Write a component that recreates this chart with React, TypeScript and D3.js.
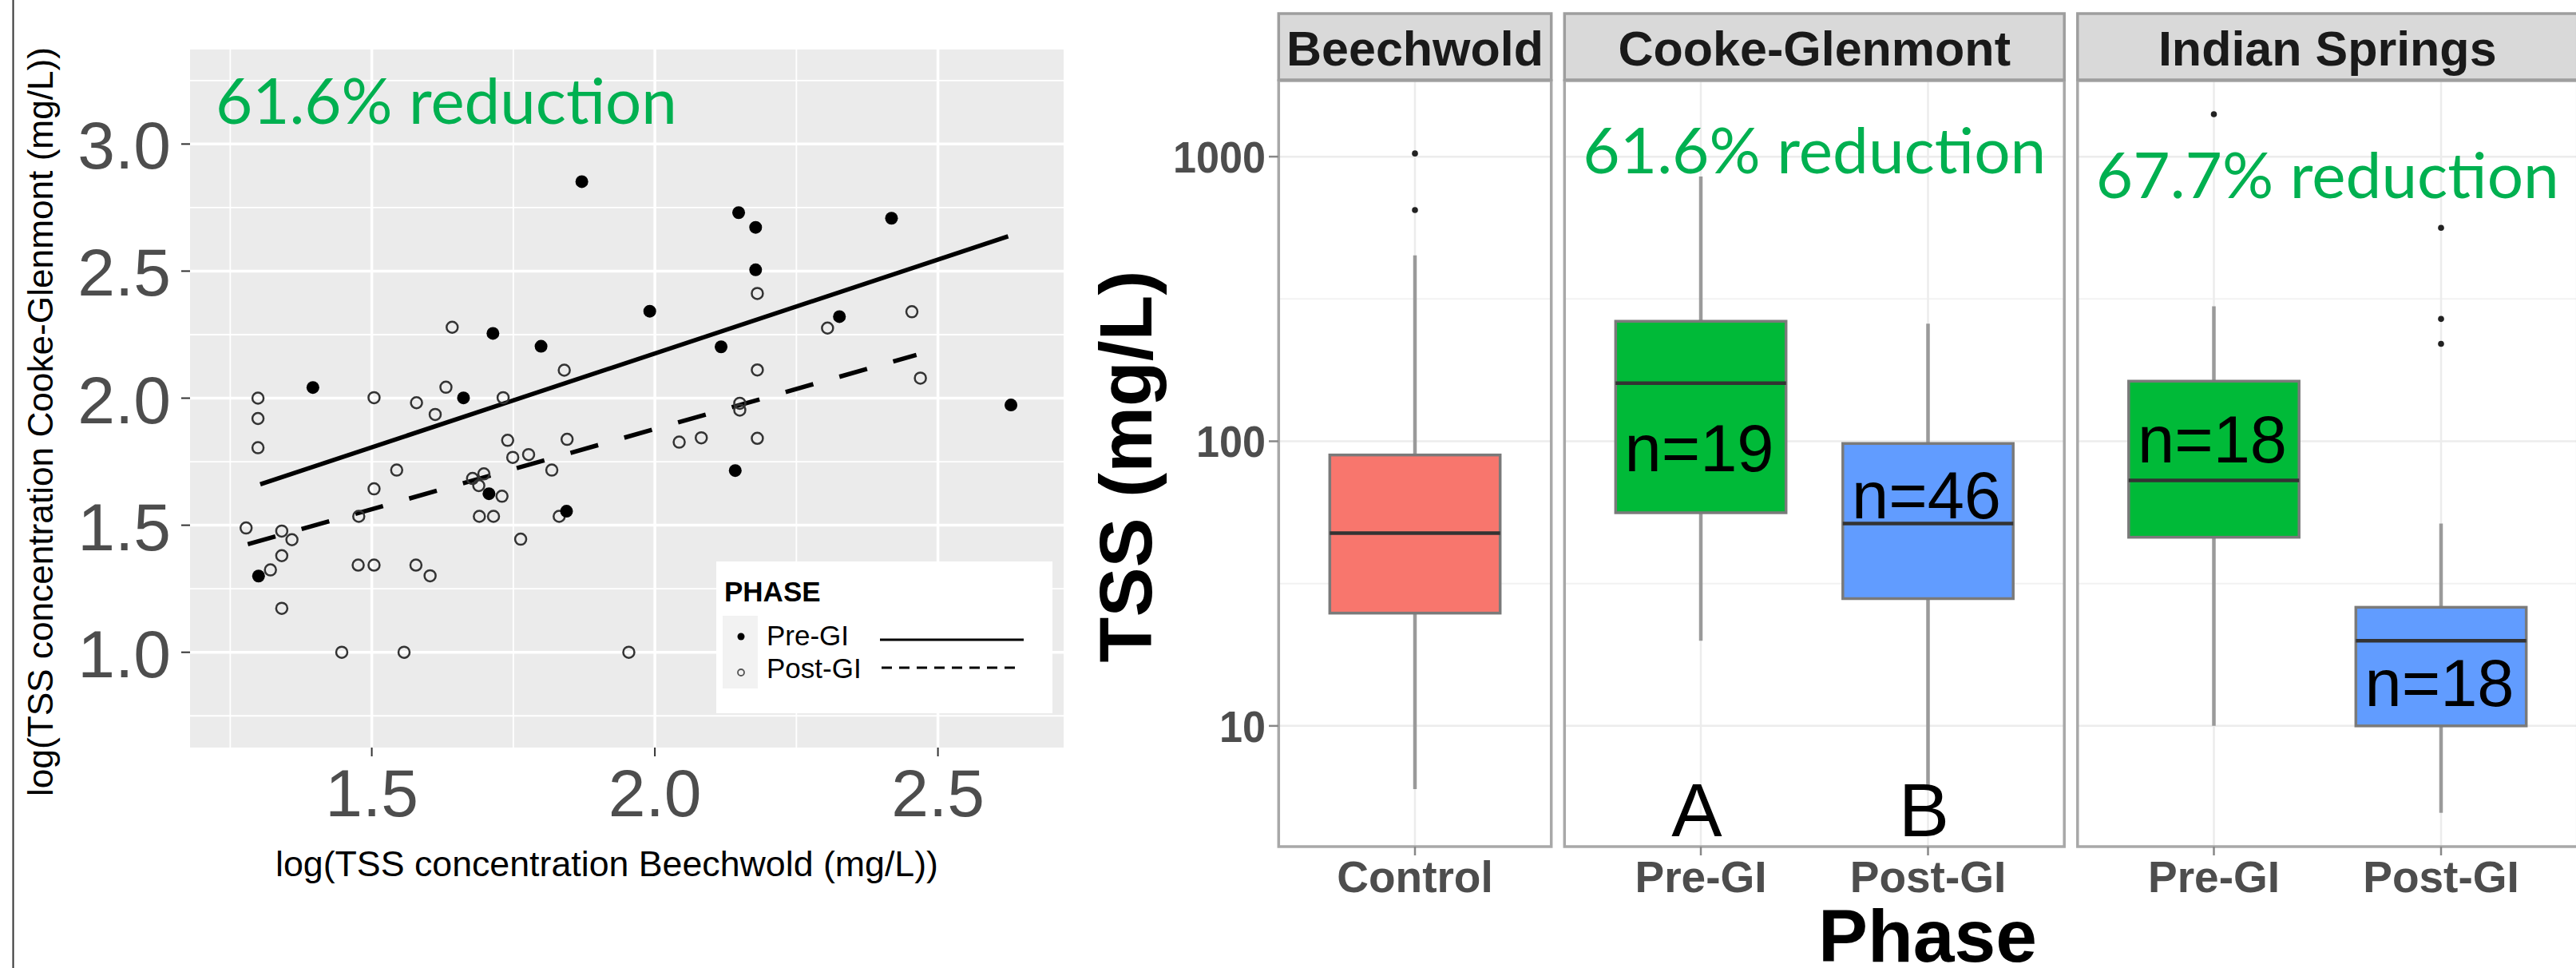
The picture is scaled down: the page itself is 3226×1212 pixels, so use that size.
import React from 'react';
import * as d3 from 'd3';

const W = 3226;
const H = 1212;

// ---------- Left panel: scatter data (log10 TSS) ----------
const preGI: [number, number][] = [
  [1.871, 2.852], [2.148, 2.730], [2.178, 2.672], [2.178, 2.505], [2.418, 2.708],
  [1.991, 2.342], [2.326, 2.321], [1.714, 2.255], [1.799, 2.204], [2.117, 2.202],
  [1.396, 2.042], [1.662, 2.001], [2.629, 1.973], [2.142, 1.715], [1.707, 1.624],
  [1.844, 1.555], [1.300, 1.300],
];
const postGI: [number, number][] = [
  [1.299, 2.000], [1.299, 1.920], [1.299, 1.805], [1.278, 1.489], [1.341, 1.477],
  [1.359, 1.443], [1.341, 1.380], [1.321, 1.324], [1.341, 1.173], [1.447, 1.000],
  [1.477, 1.535], [1.476, 1.343], [1.504, 1.343], [1.504, 1.643], [1.504, 2.002],
  [1.544, 1.717], [1.557, 1.000], [1.579, 1.982], [1.578, 1.343], [1.603, 1.301],
  [1.612, 1.936], [1.631, 2.043], [1.642, 2.279], [1.678, 1.684], [1.689, 1.656],
  [1.698, 1.702], [1.690, 1.535], [1.715, 1.535], [1.730, 1.614], [1.732, 2.002],
  [1.740, 1.834], [1.749, 1.767], [1.777, 1.778], [1.763, 1.445], [1.818, 1.717],
  [1.831, 1.535], [1.840, 2.110], [1.845, 1.838], [1.954, 1.000], [2.043, 1.827],
  [2.082, 1.844], [2.150, 1.980], [2.150, 1.953], [2.181, 2.412], [2.181, 2.111],
  [2.181, 1.842], [2.305, 2.276], [2.454, 2.340], [2.469, 2.079],
];
const preFit: [number, number][] = [[1.303, 1.661], [2.624, 2.637]];
const postFit: [number, number][] = [[1.281, 1.425], [2.462, 2.170]];
const xTicksL = [1.5, 2.0, 2.5];
const yTicksL = [1.0, 1.5, 2.0, 2.5, 3.0];
const xMinorL = [1.25, 1.75, 2.25];
const yMinorL = [0.75, 1.25, 1.75, 2.25, 2.75, 3.25];
const leftNote = { x: 1.224, y: 3.08, text: '61.6% reduction' };
const legendTitle = 'PHASE';
const legendLabels = ['Pre-GI', 'Post-GI'];

// ---------- Right panel: boxplot data (TSS mg/L) ----------
const facets = ['Beechwold', 'Cooke-Glenmont', 'Indian Springs'];
const facetCats = [['Control'], ['Pre-GI', 'Post-GI'], ['Pre-GI', 'Post-GI']];
const boxFacet = [0, 1, 1, 2, 2];
const boxCat = ['Control', 'Pre-GI', 'Post-GI', 'Pre-GI', 'Post-GI'];
const whiskLo = [6.0, 19.9, 6.0, 10.0, 4.95];
const q1 = [24.9, 56.1, 28.0, 46.0, 10.0];
const med = [47.6, 160, 51.4, 72.8, 19.9];
const q3 = [89.5, 264, 98.2, 162.6, 26.1];
const whiskHi = [450, 851, 259, 298, 51.4];
const outliers: number[][] = [[1026, 649], [], [], [1409], [562, 269, 220]];
const nLabels = ['', 'n=19', 'n=46', 'n=18', 'n=18'];
const nLabelVal = [0, 78.7, 53.5, 84.5, 11.75];
const letterLabels = ['', 'A', 'B', '', ''];
const letterVal = 4.1;
const facetNotes = ['', '61.6% reduction', '67.7% reduction'];
const facetNoteVal = [0, 876, 714];
const yTicksR = [10, 100, 1000];
const yMinorR = [Math.sqrt(10) * 10, Math.sqrt(10) * 100];
const fillColors: Record<string, string> = {
  Control: '#F8766D',
  'Pre-GI': '#00BA38',
  'Post-GI': '#619CFF',
};

const SANS = "'Liberation Sans', Arial, sans-serif";
const GREEN = '#00b050';

export default function App() {
  // left scales
  const lx = d3.scaleLinear().domain([1.179, 2.722]).range([238, 1332]);
  const ly = d3.scaleLinear().domain([0.625, 3.372]).range([936, 62]);
  const line = d3.line<[number, number]>().x(d => lx(d[0])).y(d => ly(d[1]));

  // right scales
  const ry = d3.scaleLog().domain([3.766, 1849]).range([1060, 101]);
  const unit = 284.5;
  const gap = 16.6;
  let cursor = 1601.3;
  const panels = facets.map((f, i) => {
    const n = facetCats[i].length;
    const w = (n + 0.2) * unit;
    const left = cursor;
    cursor += w + gap;
    const sx = d3.scaleLinear().domain([0.4, n + 0.6]).range([left, left + w]);
    return { name: f, left, right: left + w, sx, cats: facetCats[i] };
  });
  const boxX = (i: number) => {
    const p = panels[boxFacet[i]];
    return p.sx(p.cats.indexOf(boxCat[i]) + 1);
  };
  const boxW = 0.75 * unit;
  const rTop = 101;
  const rBottom = 1060;

  return (
    <svg
      width={W}
      height={H}
      viewBox={`0 0 ${W} ${H}`}
      style={{ position: 'absolute', left: 0, top: 0, display: 'block', background: '#fff' }}
    >
      <rect x={0} y={0} width={W} height={H} fill="#fff" />
      {/* left frame line */}
      <line x1={16.5} x2={16.5} y1={0} y2={H} stroke="#333" strokeWidth={2} />

      {/* ================= LEFT SCATTER ================= */}
      <rect x={238} y={62} width={1332 - 238} height={936 - 62} fill="#ebebeb" />
      {xMinorL.map(v => (
        <line key={'xm' + v} x1={lx(v)} x2={lx(v)} y1={62} y2={936} stroke="#fff" strokeWidth={1.8} />
      ))}
      {yMinorL.map(v => (
        <line key={'ym' + v} x1={238} x2={1332} y1={ly(v)} y2={ly(v)} stroke="#fff" strokeWidth={1.8} />
      ))}
      {xTicksL.map(v => (
        <line key={'xM' + v} x1={lx(v)} x2={lx(v)} y1={62} y2={936} stroke="#fff" strokeWidth={3.5} />
      ))}
      {yTicksL.map(v => (
        <line key={'yM' + v} x1={238} x2={1332} y1={ly(v)} y2={ly(v)} stroke="#fff" strokeWidth={3.5} />
      ))}
      {/* axes ticks and labels */}
      {yTicksL.map(v => (
        <g key={'yt' + v}>
          <line x1={227} x2={238} y1={ly(v)} y2={ly(v)} stroke="#333" strokeWidth={2} />
          <text x={214} y={ly(v) + 31} textAnchor="end" fontFamily={SANS} fontSize={84} fill="#4d4d4d">
            {v.toFixed(1)}
          </text>
        </g>
      ))}
      {xTicksL.map(v => (
        <g key={'xt' + v}>
          <line x1={lx(v)} x2={lx(v)} y1={936} y2={947} stroke="#333" strokeWidth={2} />
          <text x={lx(v)} y={1022} textAnchor="middle" fontFamily={SANS} fontSize={84} fill="#4d4d4d">
            {v.toFixed(1)}
          </text>
        </g>
      ))}
      <text
        x={760}
        y={1097}
        textAnchor="middle"
        fontFamily={SANS}
        fontSize={44}
        fill="#000"
        textLength={830}
        lengthAdjust="spacingAndGlyphs"
      >
        log(TSS concentration Beechwold (mg/L))
      </text>
      <text
        transform={`translate(66,528) rotate(-90)`}
        textAnchor="middle"
        fontFamily={SANS}
        fontSize={44}
        fill="#000"
        textLength={938}
        lengthAdjust="spacingAndGlyphs"
      >
        log(TSS concentration Cooke-Glenmont (mg/L))
      </text>

      {/* fit lines */}
      <path d={line(preFit) || ''} stroke="#000" strokeWidth={5.5} fill="none" />
      <path d={line(postFit) || ''} stroke="#000" strokeWidth={5.5} fill="none" strokeDasharray="36,34" />

      {/* points */}
      {postGI.map((d, i) => (
        <circle key={'po' + i} cx={lx(d[0])} cy={ly(d[1])} r={7} fill="none" stroke="#333" strokeWidth={2.5} />
      ))}
      {preGI.map((d, i) => (
        <circle key={'pr' + i} cx={lx(d[0])} cy={ly(d[1])} r={8} fill="#000" />
      ))}

      {/* annotation */}
      <text
        x={lx(leftNote.x)}
        y={ly(leftNote.y)}
        fontFamily="Lato, 'Open Sans', sans-serif"
        fontSize={80}
        fill={GREEN}
        textLength={578}
        lengthAdjust="spacingAndGlyphs"
      >
        {leftNote.text}
      </text>

      {/* legend */}
      <rect x={897} y={703} width={421} height={190} fill="#fff" />
      <text x={907} y={753} fontFamily={SANS} fontWeight="bold" fontSize={35} fill="#000">
        {legendTitle}
      </text>
      <rect x={905} y={771} width={44} height={91} fill="#f2f2f2" />
      <circle cx={928} cy={797} r={4.5} fill="#000" />
      <circle cx={928} cy={842} r={4} fill="none" stroke="#555" strokeWidth={1.8} />
      <text x={960} y={808} fontFamily={SANS} fontSize={35} fill="#000">
        {legendLabels[0]}
      </text>
      <text x={960} y={849} fontFamily={SANS} fontSize={35} fill="#000">
        {legendLabels[1]}
      </text>
      <line x1={1102} x2={1282} y1={801} y2={801} stroke="#000" strokeWidth={3} />
      <line x1={1104} x2={1278} y1={836} y2={836} stroke="#000" strokeWidth={3} strokeDasharray="13,9" />

      {/* ================= RIGHT BOXPLOTS ================= */}
      {panels.map((p, pi) => (
        <g key={'panel' + pi}>
          <rect x={p.left} y={rTop} width={p.right - p.left} height={rBottom - rTop} fill="#fff" />
          {yMinorR.map(v => (
            <line key={'rm' + v} x1={p.left} x2={p.right} y1={ry(v)} y2={ry(v)} stroke="#f2f2f2" strokeWidth={2} />
          ))}
          {yTicksR.map(v => (
            <line key={'rM' + v} x1={p.left} x2={p.right} y1={ry(v)} y2={ry(v)} stroke="#ececec" strokeWidth={2.5} />
          ))}
          {p.cats.map((c, ci) => (
            <line
              key={'vg' + c}
              x1={p.sx(ci + 1)}
              x2={p.sx(ci + 1)}
              y1={rTop}
              y2={rBottom}
              stroke="#ececec"
              strokeWidth={2.5}
            />
          ))}
        </g>
      ))}

      {boxCat.map((c, i) => {
        const cx = boxX(i);
        return (
          <g key={'box' + i}>
            <line x1={cx} x2={cx} y1={ry(whiskHi[i])} y2={ry(q3[i])} stroke="#9a9a9a" strokeWidth={4.5} />
            <line x1={cx} x2={cx} y1={ry(q1[i])} y2={ry(whiskLo[i])} stroke="#9a9a9a" strokeWidth={4.5} />
            <rect
              x={cx - boxW / 2}
              y={ry(q3[i])}
              width={boxW}
              height={ry(q1[i]) - ry(q3[i])}
              fill={fillColors[c]}
              stroke="#7a7a7a"
              strokeWidth={3.5}
            />
            <line
              x1={cx - boxW / 2}
              x2={cx + boxW / 2}
              y1={ry(med[i])}
              y2={ry(med[i])}
              stroke="#333"
              strokeWidth={4.5}
            />
            {outliers[i].map((o, oi) => (
              <circle key={'o' + oi} cx={cx} cy={ry(o)} r={3.8} fill="#222" />
            ))}
            {nLabels[i] && (
              <text x={cx - 2} y={ry(nLabelVal[i])} textAnchor="middle" fontFamily={SANS} fontSize={83} fill="#000">
                {nLabels[i]}
              </text>
            )}
            {letterLabels[i] && (
              <text x={cx - 5} y={ry(letterVal)} textAnchor="middle" fontFamily={SANS} fontSize={95} fill="#000">
                {letterLabels[i]}
              </text>
            )}
          </g>
        );
      })}

      {panels.map((p, pi) => (
        <g key={'pf' + pi}>
          {facetNotes[pi] && (
            <text
              x={(p.left + p.right) / 2}
              y={ry(facetNoteVal[pi])}
              textAnchor="middle"
              fontFamily="Lato, 'Open Sans', sans-serif"
              fontSize={80}
              fill={GREEN}
              textLength={580}
              lengthAdjust="spacingAndGlyphs"
            >
              {facetNotes[pi]}
            </text>
          )}
          <rect
            x={p.left}
            y={rTop}
            width={p.right - p.left}
            height={rBottom - rTop}
            fill="none"
            stroke="#a8a8a8"
            strokeWidth={3.5}
          />
          {/* strip */}
          <rect
            x={p.left}
            y={17}
            width={p.right - p.left}
            height={83}
            fill="#d9d9d9"
            stroke="#9e9e9e"
            strokeWidth={3.5}
          />
          <text
            x={(p.left + p.right) / 2}
            y={82}
            textAnchor="middle"
            fontFamily={SANS}
            fontWeight="bold"
            fontSize={61}
            fill="#1a1a1a"
          >
            {p.name}
          </text>
          {p.cats.map((c, ci) => (
            <g key={'xl' + c}>
              <line
                x1={p.sx(ci + 1)}
                x2={p.sx(ci + 1)}
                y1={rBottom}
                y2={rBottom + 11}
                stroke="#888"
                strokeWidth={2.5}
              />
              <text
                x={p.sx(ci + 1)}
                y={1117}
                textAnchor="middle"
                fontFamily={SANS}
                fontWeight="bold"
                fontSize={55}
                fill="#4d4d4d"
              >
                {c}
              </text>
            </g>
          ))}
        </g>
      ))}

      {/* right y axis */}
      {yTicksR.map(v => (
        <g key={'ryt' + v}>
          <line x1={1589} x2={1601} y1={ry(v)} y2={ry(v)} stroke="#888" strokeWidth={2.5} />
          <text
            x={1585}
            y={ry(v) + 20}
            textAnchor="end"
            fontFamily={SANS}
            fontWeight="bold"
            fontSize={56}
            fill="#4d4d4d"
            textLength={v === 1000 ? 116 : v === 100 ? 87 : 58}
            lengthAdjust="spacingAndGlyphs"
          >
            {String(v)}
          </text>
        </g>
      ))}
      <text
        transform={`translate(1442,584) rotate(-90)`}
        textAnchor="middle"
        fontFamily={SANS}
        fontWeight="bold"
        fontSize={93}
        fill="#000"
      >
        TSS (mg/L)
      </text>
      <text x={2414} y={1204} textAnchor="middle" fontFamily={SANS} fontWeight="bold" fontSize={93} fill="#000">
        Phase
      </text>
    </svg>
  );
}
